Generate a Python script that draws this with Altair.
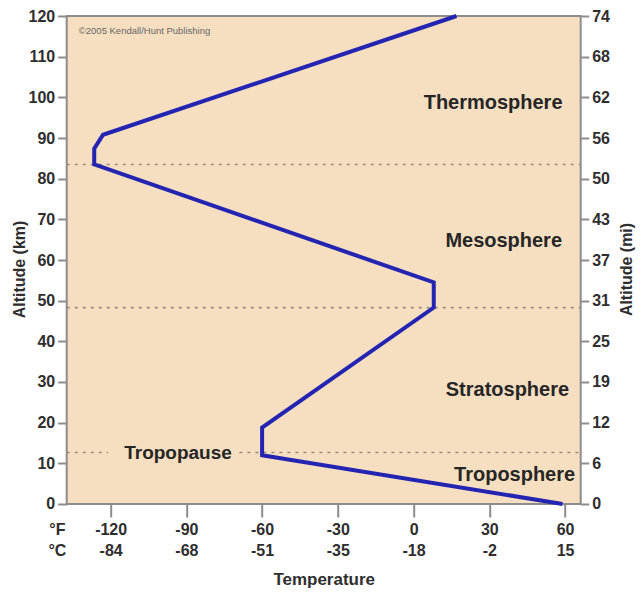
import altair as alt
import pandas as pd

# Temperature profile (deg F) vs altitude (km)
temp_f = [59, -60, -60, 8, 8, -126.5, -126.5, -123, 17]
alt_km = [0, 12, 18.8, 48.3, 54.5, 83.5, 87.4, 90.8, 120]

# Boundary (dashed) lines
bound_km = [83.5, 48.3, 12.65, 12.65]
bound_x1 = [-137.4, -137.4, -137.4, -69]
bound_x2 = [66.2, 66.2, -121, 66.2]

# Layer names (right-aligned)
layer_names = ["Thermosphere", "Mesosphere", "Stratosphere", "Troposphere"]
layer_t = [59, 58.8, 61.6, 64]
layer_km = [98.7, 64.7, 28.1, 7.1]

# Tropopause label (centered)
pause_names = ["Tropopause"]
pause_t = [-93.3]
pause_km = [12.65]

# Axis labels
f_ticks = [-120, -90, -60, -30, 0, 30, 60]
f_labels = ["-120", "-90", "-60", "-30", "0", "30", "60"]
c_labels = ["-84", "-68", "-51", "-35", "-18", "-2", "15"]
km_ticks = [0, 10, 20, 30, 40, 50, 60, 70, 80, 90, 100, 110, 120]
mi_labels = ["0", "6", "12", "19", "25", "31", "37", "43", "50", "56", "62", "68", "74"]

unit_names = ["°F", "°C"]
unit_t = [-141.1, -141.1]
unit_km = [-6.4, -11.5]

credit = ["©2005 Kendall/Hunt Publishing"]
credit_t = [-132.6]
credit_km = [116.3]

X_DOMAIN = [-137.4, 66.2]
Y_DOMAIN = [0, 120]
FONT = "Liberation Sans"
TXT = "#2e2e2e"
AX = "#8c8c8c"

profile = pd.DataFrame({"t": temp_f, "km": alt_km, "i": list(range(len(temp_f)))})
bounds = pd.DataFrame({"km": bound_km, "x1": bound_x1, "x2": bound_x2})
layers = pd.DataFrame({"name": layer_names, "t": layer_t, "km": layer_km})
pauses = pd.DataFrame({"name": pause_names, "t": pause_t, "km": pause_km})
units = pd.DataFrame({"name": unit_names, "t": unit_t, "km": unit_km})
credits = pd.DataFrame({"name": credit, "t": credit_t, "km": credit_km})

f_arr = "[" + ",".join("'%s'" % s for s in f_labels) + "]"
c_arr = "[" + ",".join("'%s'" % s for s in c_labels) + "]"
mi_arr = "[" + ",".join("'%s'" % s for s in mi_labels) + "]"

x_axis = alt.Axis(
    values=f_ticks,
    labelExpr="[%s[round((datum.value+120)/30)], %s[round((datum.value+120)/30)]]" % (f_arr, c_arr),
    title="Temperature",
    grid=False, domain=False,
    tickSize=13, tickColor=AX, tickWidth=2,
    labelFont=FONT, labelFontSize=16, labelFontWeight="bold", labelColor=TXT,
    labelLineHeight=21, labelPadding=5, labelBaseline="top",
    titleFont=FONT, titleFontSize=17, titleFontWeight="bold", titleColor=TXT,
    titleBaseline="middle", titleY=76,
)

x_scale = alt.Scale(domain=X_DOMAIN, nice=False, zero=False)
y_scale = alt.Scale(domain=Y_DOMAIN, nice=False, zero=False)

left_axis = alt.Axis(
    values=km_ticks, title="Altitude (km)", grid=False, domain=False,
    tickSize=9, tickColor=AX, tickWidth=2, labelPadding=3,
    labelFont=FONT, labelFontSize=16, labelFontWeight="bold", labelColor=TXT,
    titleFont=FONT, titleFontSize=16, titleFontWeight="bold", titleColor=TXT,
    titleAngle=270, titleBaseline="middle", titleX=-46.7, titleY=253,
)
right_axis = alt.Axis(
    orient="right", values=km_ticks, title="Altitude (mi)", grid=False, domain=False,
    labelExpr="%s[round(datum.value/10)]" % mi_arr,
    tickSize=8, tickColor=AX, tickWidth=2, labelPadding=3,
    labelFont=FONT, labelFontSize=16, labelFontWeight="bold", labelColor=TXT,
    titleFont=FONT, titleFontSize=16, titleFontWeight="bold", titleColor=TXT,
    titleAngle=270, titleBaseline="middle", titleX=46, titleY=253,
)

rules = alt.Chart(bounds).mark_rule(color="#9a8c80", strokeWidth=1.6, strokeDash=[3, 5]).encode(
    x=alt.X("x1:Q", scale=x_scale, axis=x_axis),
    x2="x2:Q",
    y=alt.Y("km:Q", scale=y_scale, axis=right_axis),
)

line = alt.Chart(profile).mark_line(color="#2424b2", strokeWidth=4, strokeJoin="miter").encode(
    x=alt.X("t:Q", scale=x_scale, axis=x_axis),
    y=alt.Y("km:Q", scale=y_scale, axis=left_axis),
    order="i:Q",
)

layer_text = alt.Chart(layers).mark_text(
    align="right", baseline="middle", font=FONT, fontSize=20, fontWeight="bold", color="#262626"
).encode(
    x=alt.X("t:Q", scale=x_scale, axis=x_axis),
    y=alt.Y("km:Q", scale=y_scale, axis=None),
    text="name:N",
)

pause_text = alt.Chart(pauses).mark_text(
    align="center", baseline="middle", font=FONT, fontSize=19, fontWeight="bold", color="#262626"
).encode(
    x=alt.X("t:Q", scale=x_scale, axis=x_axis),
    y=alt.Y("km:Q", scale=y_scale, axis=None),
    text="name:N",
)

unit_text = alt.Chart(units).mark_text(
    align="center", baseline="middle", font=FONT, fontSize=16, fontWeight="bold", color=TXT
).encode(
    x=alt.X("t:Q", scale=x_scale, axis=x_axis),
    y=alt.Y("km:Q", scale=y_scale, axis=None),
    text="name:N",
)

credit_text = alt.Chart(credits).mark_text(
    align="left", baseline="middle", font=FONT, fontSize=9.5, color="#666666"
).encode(
    x=alt.X("t:Q", scale=x_scale, axis=x_axis),
    y=alt.Y("km:Q", scale=y_scale, axis=None),
    text="name:N",
)

chart = alt.layer(
    rules, line, layer_text, pause_text, unit_text, credit_text
).resolve_scale(y="independent").properties(
    width=514, height=488,
    background="white",
    autosize=alt.AutoSizeParams(type="none"),
    padding={"left": 58.7, "top": 8, "right": 55, "bottom": 86},
).configure_view(
    fill="#f6dfc1", stroke=AX, strokeWidth=2
)

chart.save("out.html", embed_options={"renderer": "svg", "actions": False})
